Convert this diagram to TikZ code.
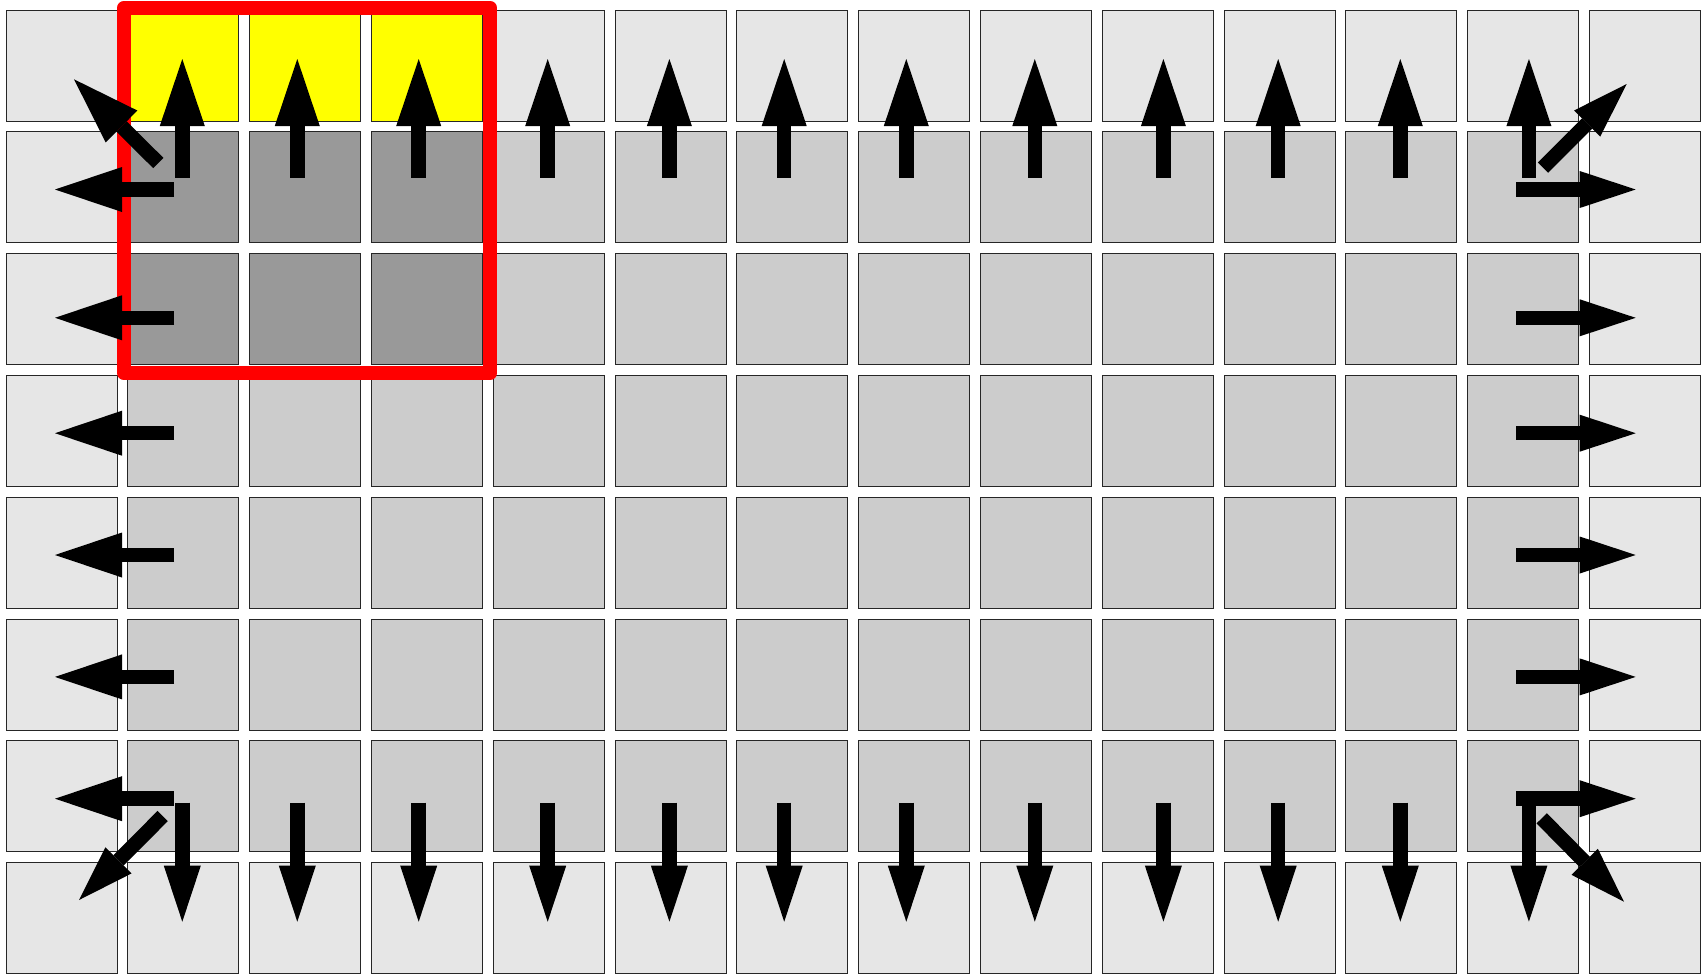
\documentclass[tikz,border=0pt]{standalone}
\usetikzlibrary{arrows.meta}
\definecolor{outerg}{HTML}{E6E6E6}
\definecolor{innerg}{HTML}{CCCCCC}
\definecolor{darkg}{HTML}{999999}
\definecolor{yel}{HTML}{FFFF00}
\definecolor{redline}{HTML}{FF0000}
\begin{document}
\begin{tikzpicture}[x=0.5pt,y=-0.5pt,
  cell/.style={draw=black!85, line width=0.5pt, minimum width=55.5pt, minimum height=55.5pt, inner sep=0pt, outer sep=0pt},
  bigarrow/.style={line width=7.25pt, -{Triangle[length=33.5pt,width=22.5pt,line width=0pt]}},
  smallarrow/.style={line width=7.25pt, -{Triangle[length=28pt,width=18.5pt,line width=0pt]}},
  frame/.style={draw=redline, line width=7.25pt, line join=round}]
\useasboundingbox (0,0) rectangle (1702,975);
% cells
\foreach \r in {0,...,7}{
  \foreach \c in {0,...,13}{
    \pgfmathsetmacro\cx{61.5+121.8*\c}
    \pgfmathsetmacro\cy{65.5+121.8*\r}
    \def\col{innerg}
    \ifnum\r=0 \def\col{outerg}\fi
    \ifnum\r=7 \def\col{outerg}\fi
    \ifnum\c=0 \def\col{outerg}\fi
    \ifnum\c=13 \def\col{outerg}\fi
    \ifnum\r=0 \ifnum\c>0 \ifnum\c<4 \def\col{yel}\fi\fi\fi
    \ifnum\r>0 \ifnum\r<3 \ifnum\c>0 \ifnum\c<4 \def\col{darkg}\fi\fi\fi\fi
    \node[cell, fill=\col] (c\r-\c) at (\cx,\cy) {};
  }
}
% red frame
\coordinate (f1) at (124,8);
\coordinate (f2) at (490.2,373);
\draw[frame] (f1) rectangle (f2);
% up and down arrows
\foreach \x [count=\i] in {182.3,297.3,418.7,547.7,669.4,784.2,906.3,1034.8,1163.4,1278.2,1400.3,1528.9}{
  \coordinate (us\i) at (\x,177.5);
  \coordinate (ue\i) at (\x,59);
  \draw[bigarrow] (us\i) -- (ue\i);
  \coordinate (ds\i) at (\x,802.7);
  \coordinate (de\i) at (\x,921.7);
  \draw[smallarrow] (ds\i) -- (de\i);
}
% left and right arrows
\foreach \y [count=\i] in {189.5,317.8,433.2,555,676.9,798.7}{
  \coordinate (ls\i) at (174,\y);
  \coordinate (le\i) at (55,\y);
  \draw[bigarrow] (ls\i) -- (le\i);
  \coordinate (rs\i) at (1516,\y);
  \coordinate (re\i) at (1635.7,\y);
  \draw[smallarrow] (rs\i) -- (re\i);
}
% diagonal corner arrows
\coordinate (tls) at (158.3,163);
\coordinate (tle) at (74,79.3);
\draw[bigarrow] (tls) -- (tle);
\coordinate (trs) at (1543,167.7);
\coordinate (tre) at (1626.7,84);
\draw[smallarrow] (trs) -- (tre);
\coordinate (bls) at (162.7,816);
\coordinate (ble) at (79,900);
\draw[smallarrow] (bls) -- (ble);
\coordinate (brs) at (1541.7,818.3);
\coordinate (bre) at (1624,901.7);
\draw[smallarrow] (brs) -- (bre);
\end{tikzpicture}
\end{document}
